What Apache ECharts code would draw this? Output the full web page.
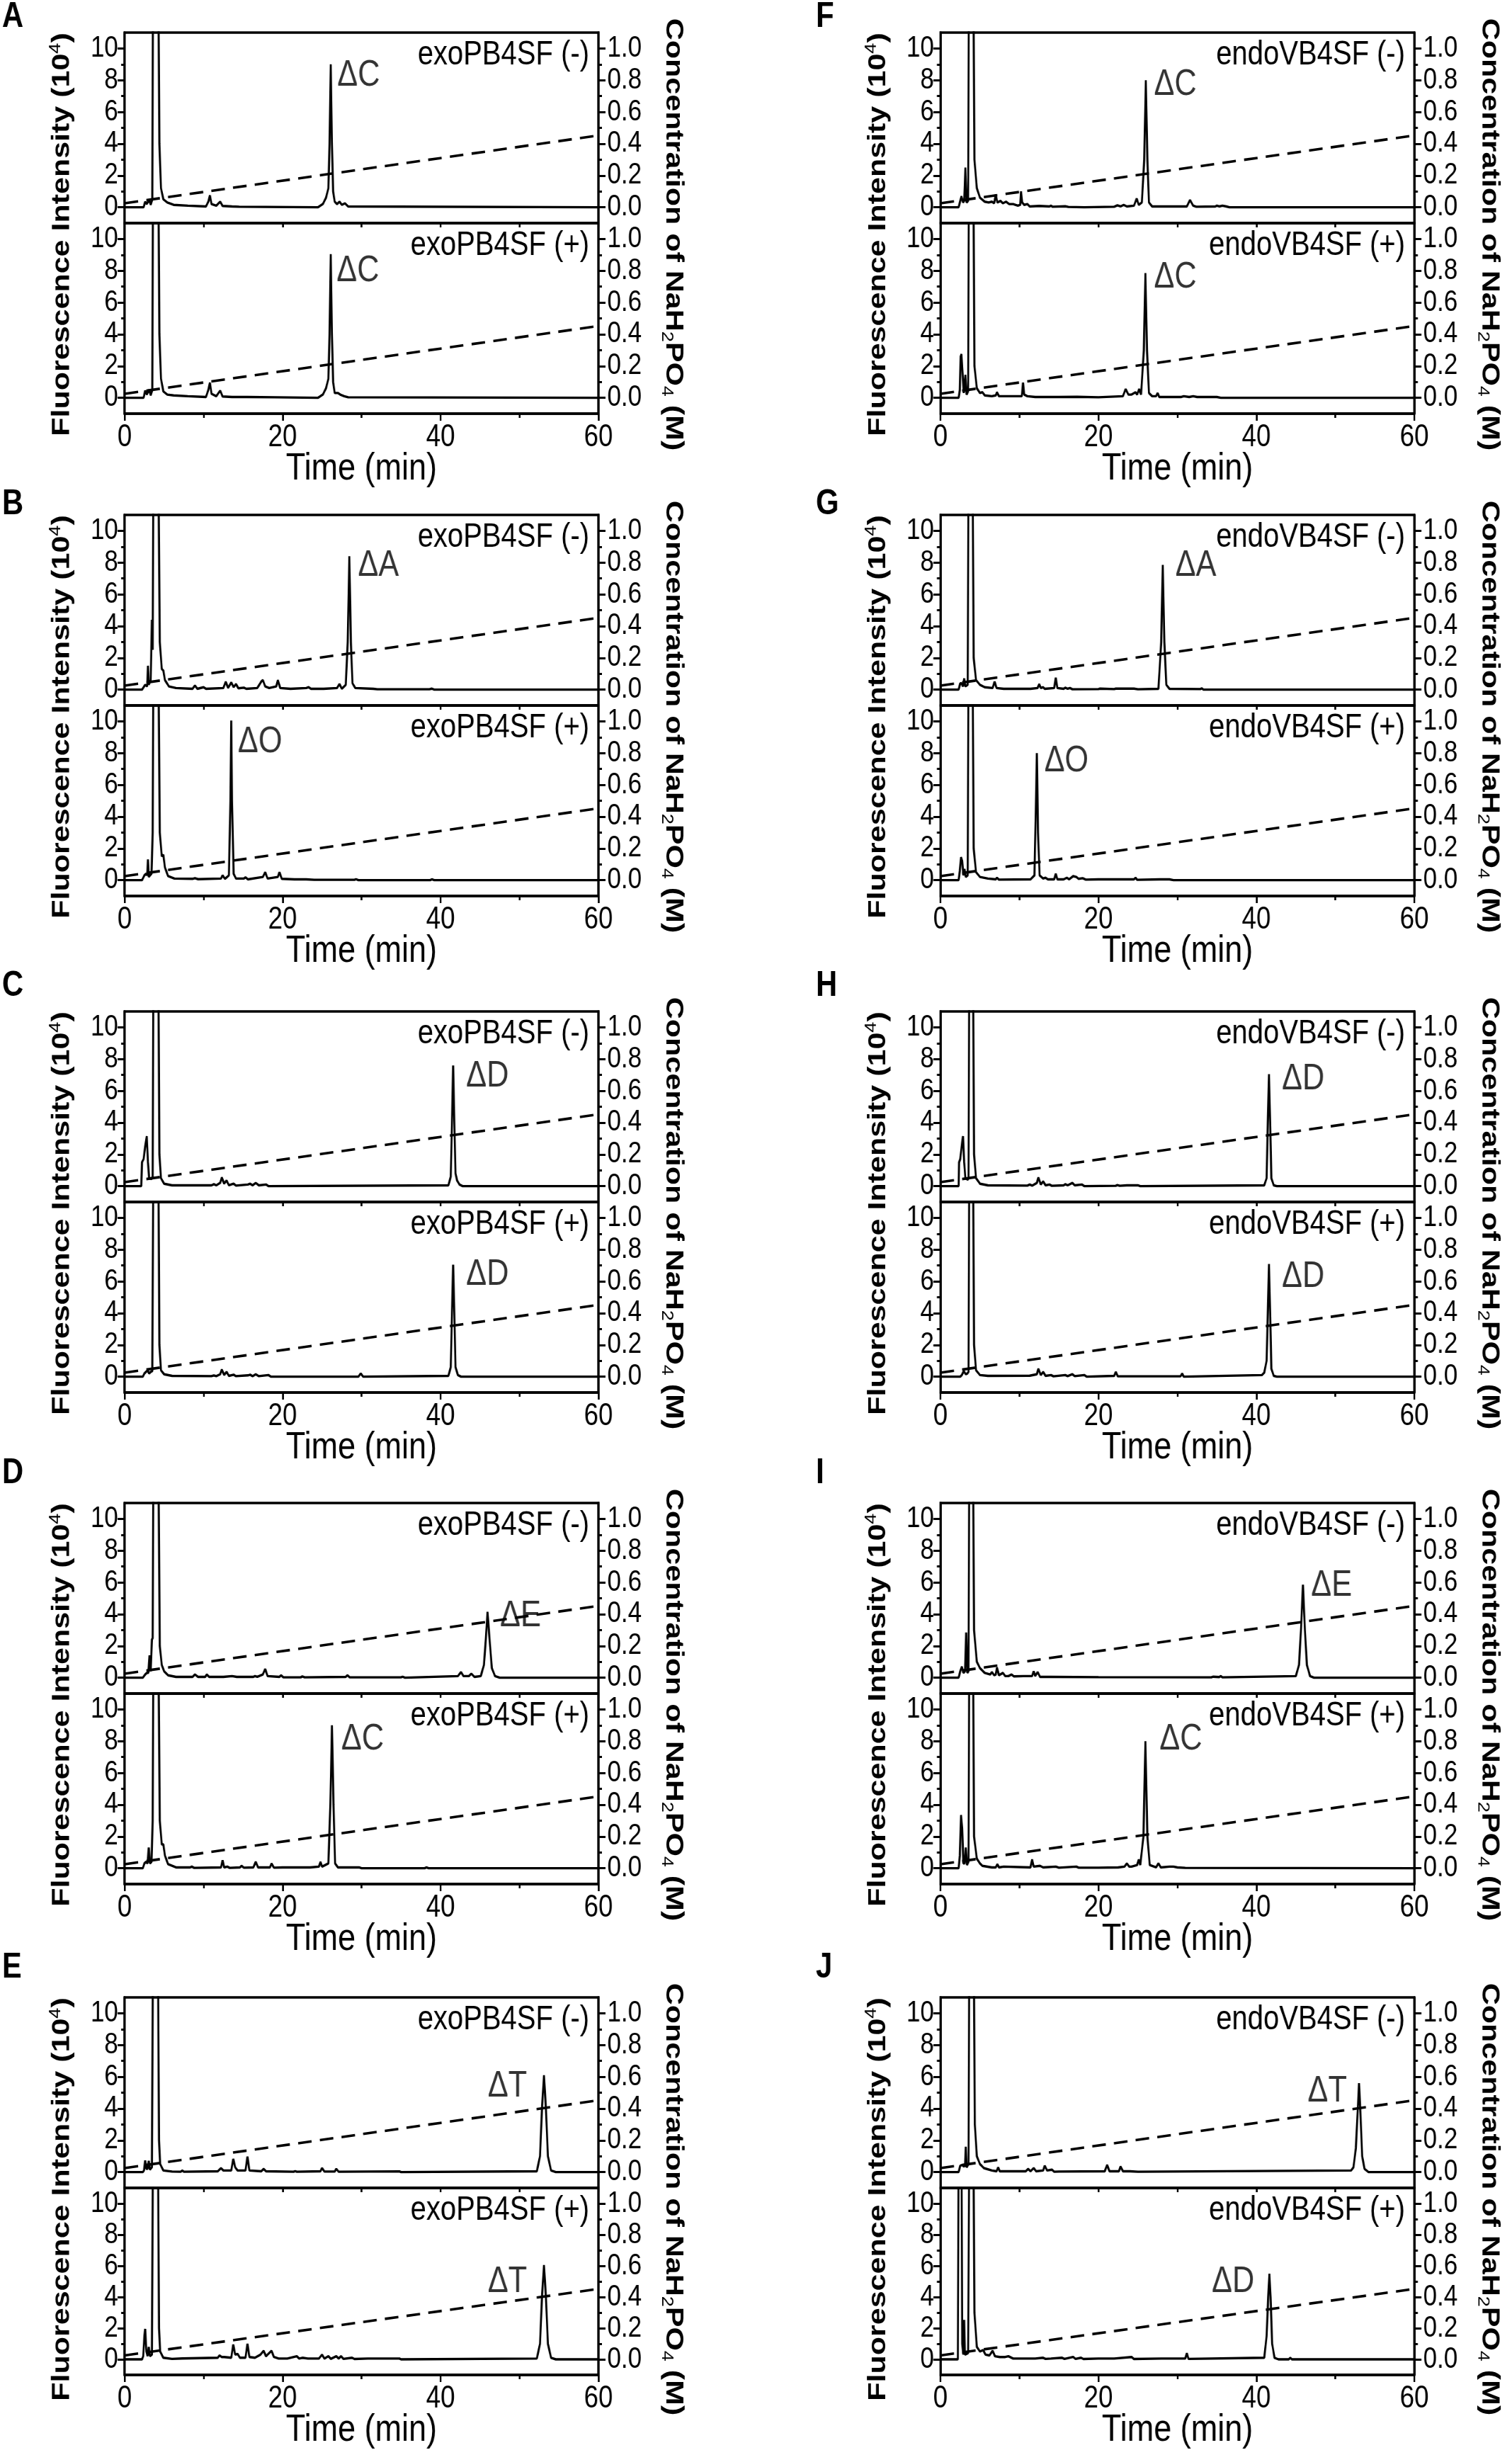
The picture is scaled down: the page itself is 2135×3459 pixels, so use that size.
<!DOCTYPE html>
<html>
<head>
<meta charset="utf-8">
<title>HPLC chromatograms</title>
<script src="https://cdn.jsdelivr.net/npm/echarts@6/dist/echarts.min.js"></script>
<style>
  html, body { margin: 0; padding: 0; background: #fff; overflow: hidden; }
  #page { width: 2135px; height: 3459px; overflow: hidden; position: relative; }
  /* the figure uses a condensed face: draw wider, then squeeze horizontally */
  #chart { width: 2562px; height: 3459px; transform: scaleX(0.833333); transform-origin: 0 0; }
</style>
</head>
<body>
<div id="page"><div id="chart"></div></div>
<script>
// ---- data: [time (min), fluorescence (10^4)] ----
var A_minus = [[0,0],[2.4,0],[2.6,0.35],[2.8,0.2],[3.1,0.45],[3.3,0.15],[3.5,0.5],[3.6,15],[4.25,15],[4.4,4],[4.6,1.2],[4.9,0.5],[5.4,0.3],[6.2,0.15],[8,0.1],[10.3,0.05],[10.6,0.35],[10.8,0.75],[11,0.2],[11.6,0.1],[12.1,0.35],[12.4,0.08],[13.6,0.05],[14.5,0.03],[24.5,0],[25.1,0.2],[25.5,0.6],[25.8,1.2],[25.95,4],[26.1,9.0],[26.25,4],[26.4,1.0],[26.6,0.35],[26.9,0.2],[27.2,0.35],[27.5,0.15],[27.9,0.25],[28.3,0.05],[60,0]];
var A_plus = [[0,0],[2.4,0],[2.6,0.45],[2.8,0.2],[3.1,0.5],[3.3,0.15],[3.5,0.5],[3.6,15],[4.25,15],[4.4,4],[4.6,1.2],[4.9,0.4],[5.4,0.2],[6.2,0.15],[8,0.1],[10.3,0.05],[10.6,0.5],[10.8,0.95],[11,0.25],[11.6,0.1],[12.1,0.45],[12.4,0.08],[13.6,0.05],[15.5,0.05],[19,0.03],[24.5,0],[25.1,0.2],[25.5,0.6],[25.8,1.2],[25.95,4],[26.1,9.05],[26.25,4],[26.4,1.0],[26.6,0.3],[27.0,0.3],[27.3,0.2],[27.8,0.1],[28.3,0.03],[60,0]];
var B_minus = [[0,0],[2.2,0],[2.6,0.3],[2.85,0.2],[2.95,1.5],[3.05,0.3],[3.3,0.6],[3.45,4.4],[3.55,2.5],[3.65,15],[4.25,15],[4.45,3],[4.7,1.3],[4.9,1.2],[5.1,0.6],[5.6,0.2],[6.5,0.1],[8.6,0.05],[8.9,0.25],[9.2,0.05],[10,0.15],[10.3,0.05],[12.5,0.1],[12.8,0.5],[13.1,0.1],[13.5,0.45],[13.8,0.15],[14.1,0.35],[14.4,0.08],[15.1,0.12],[15.4,0.05],[16.8,0.1],[17.3,0.5],[17.5,0.6],[17.8,0.2],[18.3,0.1],[19.2,0.2],[19.4,0.6],[19.7,0.1],[21,0.05],[23,0.1],[23.3,0.15],[23.6,0.05],[25.2,0.05],[26.9,0.1],[27.2,0.35],[27.5,0.05],[28.0,0.3],[28.25,3],[28.45,8.4],[28.65,3],[28.85,0.4],[29.2,0.1],[31.5,0.05],[32,0.02],[38.6,0.02],[38.9,0.06],[39.2,0],[60,0]];
var B_plus = [[0,0],[2.2,0],[2.5,0.3],[2.7,0.4],[2.85,0.3],[2.95,1.3],[3.05,0.2],[3.4,0.4],[3.55,3],[3.65,15],[4.25,15],[4.45,3],[4.7,1.5],[4.9,1.6],[5.1,0.8],[5.5,0.25],[6.3,0.1],[8.6,0.08],[8.9,0.12],[9.3,0.06],[12.2,0.1],[12.4,0.3],[12.7,0.08],[13.2,0.3],[13.4,5],[13.5,10.05],[13.6,5],[13.8,0.4],[14.1,0.1],[15.1,0.1],[15.3,0.18],[15.6,0.05],[17.5,0.2],[17.8,0.5],[18.1,0.1],[19.4,0.2],[19.6,0.5],[19.9,0.08],[21.5,0.05],[23,0.05],[24,0.02],[29.1,0.02],[29.3,0.06],[29.6,0],[38.7,0],[38.9,0.05],[39.2,0],[60,0]];
var C_minus = [[0,0],[2.1,0],[2.2,1.5],[2.4,1.7],[2.6,2.5],[2.8,3.15],[2.95,1.5],[3.1,0.5],[3.4,0.45],[3.55,0.6],[3.65,15],[4.25,15],[4.4,2],[4.6,0.5],[5.0,0.15],[6,0.05],[11,0.05],[11.3,0.12],[11.6,0.05],[12.1,0.2],[12.3,0.55],[12.6,0.15],[12.9,0.35],[13.2,0.05],[13.8,0.15],[14.1,0.03],[15.6,0.1],[15.9,0.15],[16.2,0.05],[16.6,0.2],[17,0.05],[17.9,0.1],[18.2,0],[41.0,0.05],[41.3,0.6],[41.45,4],[41.6,7.6],[41.75,4],[41.9,0.8],[42.1,0.35],[42.4,0.1],[42.8,0],[60,0]];
var C_plus = [[0,0],[2.3,0],[2.5,0.2],[2.7,0.3],[2.9,0.4],[3.1,0.2],[3.3,0.3],[3.5,0.35],[3.65,15],[4.25,15],[4.4,2],[4.6,0.4],[5.0,0.15],[6,0.05],[11,0.03],[11.3,0.08],[11.6,0.03],[12.1,0.15],[12.3,0.45],[12.6,0.1],[12.9,0.3],[13.2,0.05],[13.8,0.12],[14.1,0.03],[15.6,0.08],[15.9,0.12],[16.2,0.03],[16.6,0.15],[17,0.03],[18.2,0.1],[18.5,0],[29.6,0],[29.9,0.2],[30.2,0],[41.0,0.05],[41.3,0.6],[41.45,4],[41.6,7.05],[41.75,4],[41.9,0.6],[42.2,0.1],[42.6,0],[60,0]];
var D_minus = [[0,0],[2.3,0],[2.6,0.2],[2.8,0.3],[3.0,0.3],[3.15,1.4],[3.3,0.4],[3.45,2.4],[3.55,2.5],[3.65,15],[4.25,15],[4.45,2],[4.7,0.8],[5.0,0.4],[5.5,0.15],[6.5,0.05],[8.6,0.05],[8.9,0.2],[9.3,0.05],[10.2,0.05],[10.4,0.2],[10.7,0.05],[12.5,0.05],[13.6,0.1],[14.2,0.05],[16.3,0.05],[16.5,0.1],[16.8,0.05],[17.5,0.2],[17.8,0.55],[18.1,0.1],[19.6,0.05],[19.8,0.15],[20.1,0.02],[22.3,0.02],[22.5,0.08],[22.8,0.02],[28.0,0.05],[28.2,0.15],[28.5,0.02],[35,0.02],[35.2,0.06],[35.5,0],[42.2,0.1],[42.6,0.35],[42.9,0.1],[43.6,0.1],[43.9,0.25],[44.3,0.05],[45.1,0.1],[45.5,0.8],[45.75,2.5],[45.95,4.15],[46.2,2.5],[46.5,0.6],[46.9,0.1],[47.5,0],[60,0]];
var D_plus = [[0,0],[2.3,0],[2.5,0.3],[2.7,0.4],[2.9,0.3],[3.05,1.3],[3.2,0.3],[3.4,0.4],[3.55,3],[3.65,15],[4.25,15],[4.45,3],[4.7,1.5],[4.9,1.5],[5.1,0.8],[5.5,0.25],[6.5,0.05],[8.3,0.05],[8.5,0.1],[8.8,0.02],[12.2,0.05],[12.4,0.5],[12.6,0.05],[13,0.1],[13.3,0.02],[14.6,0.05],[14.8,0.15],[15.1,0.03],[16.3,0.05],[16.6,0.4],[16.9,0.05],[18.4,0.05],[18.6,0.3],[18.9,0.03],[20,0.05],[23.5,0.05],[24.6,0.1],[24.8,0.4],[25.0,0.1],[25.8,0.3],[26.05,4],[26.25,9.0],[26.45,4],[26.65,0.3],[27,0.05],[29.7,0.05],[30,0],[38,0],[38.2,0.05],[38.5,0],[60,0]];
var E_minus = [[0,0],[2.3,0],[2.45,0.1],[2.6,0.73],[2.75,0.2],[2.9,0.2],[3.05,0.7],[3.2,0.15],[3.45,0.3],[3.6,15],[4.2,15],[4.35,2],[4.5,0.5],[4.9,0.1],[6,0.03],[7.1,0.02],[7.3,0.1],[7.5,0.02],[11.8,0.05],[12.2,0.25],[12.5,0.1],[13.5,0.1],[13.75,0.83],[14.0,0.3],[14.3,0.1],[15.3,0.1],[15.55,0.97],[15.8,0.1],[17.3,0.05],[17.6,0.2],[17.9,0.05],[21.4,0.02],[21.6,0.06],[21.8,0.02],[24.8,0.05],[25,0.25],[25.3,0.03],[26.6,0.03],[26.8,0.2],[27.1,0.02],[30.8,0.03],[34.8,0.04],[35,0],[52.2,0.05],[52.6,1],[52.85,4],[53.1,6.1],[53.35,4],[53.6,1],[54.0,0.1],[54.6,0],[60,0]];
var E_plus = [[0,0],[2.2,0],[2.35,0.2],[2.5,1.5],[2.6,1.95],[2.75,0.5],[2.9,0.2],[3.05,0.8],[3.2,0.2],[3.45,0.3],[3.6,15],[4.2,15],[4.35,2],[4.5,0.5],[4.9,0.1],[6,0.03],[7.3,0.06],[11.8,0.1],[12.0,0.25],[12.3,0.15],[12.6,0.15],[13.5,0.1],[13.75,0.95],[14.0,0.3],[14.3,0.35],[14.6,0.1],[15.3,0.1],[15.55,1.0],[15.8,0.15],[16.5,0.1],[17.2,0.3],[17.6,0.55],[17.9,0.2],[18.2,0.35],[18.6,0.55],[18.9,0.15],[19.5,0.05],[20.6,0.05],[21.8,0.2],[22.1,0.05],[22.5,0.1],[23.2,0.05],[24.6,0.05],[25,0.3],[25.3,0.05],[25.8,0.2],[26.1,0.03],[26.8,0.2],[27.1,0.05],[27.4,0.2],[27.7,0.03],[28.8,0.1],[29.1,0.02],[30.8,0.05],[34.8,0.05],[35,0],[52.2,0.05],[52.6,1],[52.85,4],[53.1,6.05],[53.35,4],[53.6,1],[54.0,0.1],[54.6,0],[60,0]];
var F_minus = [[0,0],[2.3,0],[2.5,0.4],[2.65,0.7],[2.85,0.3],[3.0,0.4],[3.15,2.5],[3.3,0.3],[3.5,0.4],[3.6,15],[4.15,15],[4.3,3],[4.6,1.2],[5.0,0.6],[5.6,0.35],[6.1,0.3],[6.5,0.35],[6.8,0.25],[7.0,0.8],[7.2,0.3],[7.6,0.4],[7.9,0.25],[8.3,0.35],[8.7,0.2],[9.2,0.2],[9.8,0.1],[10.1,0.15],[10.2,1.0],[10.35,0.3],[10.6,0.15],[11,0.2],[11.3,0.05],[12.5,0.08],[13.8,0.05],[14,0.1],[14.2,0.03],[15.8,0.06],[16.2,0.02],[18.2,0],[22,0.03],[22.4,0.12],[22.8,0.05],[23.2,0.15],[23.6,0.05],[24.5,0.1],[24.85,0.55],[25.1,0.15],[25.5,0.3],[25.8,3],[26.0,8.0],[26.2,3],[26.4,0.3],[26.8,0.05],[31.2,0.05],[31.6,0.45],[32.0,0.1],[32.4,0.03],[34.8,0.05],[35,0.1],[35.3,0.05],[35.7,0.1],[36.2,0.05],[36.6,0],[60,0]];
var F_plus = [[0,0],[2.3,0],[2.45,0.5],[2.55,2.6],[2.65,2.75],[2.8,1.5],[2.95,0.3],[3.05,0.3],[3.15,1.45],[3.3,0.2],[3.5,0.4],[3.6,15],[4.15,15],[4.3,2],[4.6,0.6],[5.0,0.3],[5.3,0.35],[5.6,0.15],[6.5,0.1],[7.0,0.15],[7.15,0.35],[7.4,0.1],[8.2,0.1],[10.3,0.1],[10.45,0.95],[10.6,0.2],[11,0.1],[12,0.05],[15,0.05],[17.3,0.06],[20,0.03],[23.1,0.1],[23.45,0.55],[23.8,0.2],[24.2,0.2],[24.7,0.35],[24.9,0.2],[25.15,0.55],[25.4,0.2],[25.75,3],[25.95,7.85],[26.15,3],[26.4,0.3],[26.8,0.1],[27.3,0.1],[27.5,0.3],[27.7,0.05],[30.5,0.05],[30.8,0.1],[31.5,0.05],[32,0.1],[32.5,0.05],[35,0.05],[35.5,0],[60,0]];
var G_minus = [[0,0],[2.3,0],[2.5,0.4],[2.65,0.4],[2.85,0.2],[3.0,0.7],[3.15,0.2],[3.45,0.3],[3.55,15],[4.05,15],[4.2,2],[4.5,0.6],[5.0,0.3],[5.6,0.15],[6.6,0.1],[6.85,0.5],[7.1,0.1],[8,0.05],[9,0.05],[11.4,0.05],[12.3,0.1],[12.5,0.35],[12.7,0.1],[13,0.15],[13.2,0.05],[14.4,0.1],[14.6,0.75],[14.8,0.1],[15.6,0.05],[15.8,0.12],[16.1,0.05],[16.4,0.1],[16.7,0.02],[20,0.03],[20.2,0.06],[22,0.03],[22.2,0.06],[23.7,0.06],[24.5,0.06],[25,0.02],[27.6,0.05],[27.95,3],[28.15,7.85],[28.35,3],[28.6,0.3],[29,0.05],[32.9,0.03],[33.1,0.08],[33.3,0],[60,0]];
var G_plus = [[0,0],[2.3,0],[2.45,0.6],[2.6,1.45],[2.75,1.2],[2.9,0.3],[3.05,0.7],[3.2,0.2],[3.45,0.3],[3.55,15],[4.05,15],[4.2,2],[4.5,0.5],[5.0,0.2],[6,0.1],[7,0.05],[7.15,0.15],[7.4,0.03],[11.4,0.05],[11.7,0.2],[11.9,0.3],[12.05,4],[12.2,8.0],[12.35,3],[12.55,0.3],[13.0,0.1],[13.3,0.15],[13.6,0.05],[14.4,0.05],[14.6,0.4],[14.8,0.05],[15.6,0.05],[16,0.15],[16.3,0.05],[16.8,0.25],[17.2,0.2],[17.5,0.08],[18,0.12],[18.4,0.03],[20,0.05],[21,0.05],[22,0.05],[24.5,0.05],[24.7,0.15],[24.9,0.02],[27.8,0.05],[29,0.05],[29.5,0],[60,0]];
var H_minus = [[0,0],[2.3,0],[2.35,1.5],[2.5,1.7],[2.7,2.6],[2.85,3.15],[3.0,1.5],[3.15,0.5],[3.45,0.4],[3.55,0.5],[3.65,15],[4.1,15],[4.25,2],[4.5,0.5],[5.0,0.15],[6,0.05],[11,0.03],[11.3,0.1],[11.6,0.03],[12.2,0.2],[12.4,0.55],[12.7,0.1],[13.0,0.3],[13.3,0.05],[13.8,0.1],[14.1,0.02],[15.6,0.05],[15.8,0.12],[16.1,0.05],[16.7,0.2],[17,0.05],[17.9,0.1],[18.2,0],[22.2,0.02],[22.4,0.07],[22.7,0.02],[23.6,0.05],[25,0.05],[25.3,0],[41.0,0.05],[41.3,0.5],[41.45,4],[41.6,7.05],[41.75,4],[41.9,0.5],[42.2,0.05],[42.6,0],[60,0]];
var H_plus = [[0,0],[2.5,0],[2.7,0.1],[2.95,0.35],[3.2,0.15],[3.4,0.2],[3.55,0.3],[3.65,15],[4.1,15],[4.25,2],[4.5,0.4],[5.0,0.1],[6,0.05],[11.3,0.06],[12.2,0.15],[12.4,0.5],[12.7,0.1],[13,0.3],[13.3,0.05],[14,0.1],[14.3,0.02],[15.8,0.1],[16.1,0.03],[16.7,0.15],[17,0.03],[18.2,0.1],[18.5,0],[22,0.05],[22.2,0.3],[22.45,0.02],[30.4,0.02],[30.6,0.2],[30.8,0],[40.7,0.1],[41.0,0.25],[41.3,1.0],[41.45,4],[41.6,7.1],[41.75,4],[41.9,0.5],[42.2,0.05],[42.6,0],[60,0]];
var I_minus = [[0,0],[2.3,0],[2.5,0.4],[2.7,0.7],[2.9,0.3],[3.1,0.4],[3.25,2.85],[3.4,0.3],[3.55,0.4],[3.65,15],[4.1,15],[4.25,3],[4.6,1.0],[5.0,0.6],[5.6,0.3],[6.3,0.2],[6.5,0.35],[6.8,0.15],[7.0,0.2],[7.15,0.65],[7.4,0.15],[7.9,0.3],[8.2,0.1],[8.6,0.1],[9,0.2],[9.3,0.08],[10.5,0.1],[11.6,0.1],[11.8,0.4],[12.0,0.1],[12.3,0.35],[12.6,0.05],[14,0.05],[20,0.03],[34.3,0.02],[34.5,0.06],[35.3,0.04],[35.5,0.1],[35.7,0.02],[45.0,0.1],[45.4,0.8],[45.65,3],[45.9,5.85],[46.15,3],[46.4,0.8],[46.8,0.1],[47.3,0],[60,0]];
var I_plus = [[0,0],[2.3,0],[2.45,0.8],[2.6,3.35],[2.75,2.5],[2.9,0.3],[3.05,0.3],[3.2,1.3],[3.35,0.2],[3.55,0.4],[3.65,15],[4.1,15],[4.25,2],[4.6,0.6],[5.0,0.3],[5.3,0.15],[6.5,0.05],[7.0,0.05],[7.2,0.25],[7.4,0.05],[8,0.1],[11.4,0.05],[11.6,0.55],[11.8,0.1],[12.6,0.15],[13,0.05],[14.6,0.1],[15,0.03],[17.2,0.1],[17.5,0.03],[20,0.03],[22.5,0.05],[23.3,0.1],[23.6,0.3],[23.9,0.1],[24.2,0.1],[24.9,0.2],[25.1,0.55],[25.3,0.2],[25.7,2],[25.95,8.0],[26.2,2],[26.5,0.2],[27.3,0.05],[27.6,0.3],[27.9,0.05],[29,0.1],[29.5,0.1],[30,0.05],[31,0.02],[60,0]];
var J_minus = [[0,0],[2.3,0],[2.5,0.4],[2.75,0.45],[2.95,0.35],[3.1,0.4],[3.2,1.6],[3.3,0.3],[3.55,0.5],[3.65,15],[4.2,15],[4.35,3],[4.6,1.0],[5.0,0.5],[5.5,0.25],[6.5,0.1],[7.1,0.05],[7.3,0.3],[7.5,0.05],[9,0.05],[10.8,0.05],[11.1,0.2],[11.4,0.05],[11.8,0.25],[12.1,0.05],[13,0.1],[13.2,0.4],[13.5,0.1],[14.1,0.15],[14.4,0.02],[15,0.03],[20.8,0.05],[21.1,0.45],[21.4,0.05],[22.6,0.05],[22.8,0.35],[23.1,0.05],[24,0.05],[25,0.02],[52,0.1],[52.3,0.3],[52.6,1.5],[52.8,3.5],[53.0,5.6],[53.2,3.5],[53.4,1.0],[53.7,0.2],[54.2,0],[60,0]];
var J_plus = [[0,0],[2.2,0],[2.3,15],[2.65,15],[2.75,1],[2.9,0.3],[3.0,2.53],[3.1,0.3],[3.5,0.4],[3.65,15],[4.15,15],[4.3,3],[4.6,0.8],[5.0,0.5],[5.4,0.6],[5.7,0.3],[6.2,0.25],[6.6,0.55],[6.9,0.2],[7.5,0.15],[8.2,0.15],[8.6,0.2],[9.2,0.05],[11,0.05],[12,0.05],[13,0.1],[13.3,0.03],[14,0.05],[15.4,0.1],[15.7,0.03],[16.8,0.15],[17.1,0.03],[17.8,0.1],[18.1,0.02],[20,0.05],[22,0.05],[24.2,0.15],[24.5,0.02],[28,0.05],[31.0,0.05],[31.2,0.4],[31.4,0.03],[41.0,0.1],[41.3,1.5],[41.5,4],[41.65,5.5],[41.8,4],[42.0,1.0],[42.3,0.1],[42.8,0],[44.1,0],[44.3,0.1],[44.5,0],[60,0]];

// NaH2PO4 gradient (dashed line), right axis
var gradientTime = [0, 60];
var gradientConc = [0.025, 0.452];

// axis ticks
var timeLabels = [0, 20, 40, 60];
var fluorTicks = [0, 2, 4, 6, 8, 10];
var fluorMinor = [1, 3, 5, 7, 9];
var concTicks = [0, 0.2, 0.4, 0.6, 0.8, 1.0];
var concMinor = [0.1, 0.3, 0.5, 0.7, 0.9];

// panels, samples and peak names: [text, time, intensity] of the label anchor
var panels = ['A', 'B', 'C', 'D', 'E', 'F', 'G', 'H', 'I', 'J'];
var traces = [
    [A_minus, A_plus], [B_minus, B_plus], [C_minus, C_plus], [D_minus, D_plus], [E_minus, E_plus],
    [F_minus, F_plus], [G_minus, G_plus], [H_minus, H_plus], [I_minus, I_plus], [J_minus, J_plus]
];
var enzymes = ['exoPB4SF', 'endoVB4SF'];
var peakLabels = [
    [['ΔC', 26.9, 8.3, 'right'], ['ΔC', 26.8, 8.0, 'right']],
    [['ΔA', 29.5, 7.8, 'right'], ['ΔO', 14.3, 8.7, 'right']],
    [['ΔD', 43.2, 6.9, 'right'], ['ΔD', 43.2, 6.4, 'right']],
    [['ΔE', 47.5, 3.9, 'right'], ['ΔC', 27.4, 8.1, 'right']],
    [['ΔT', 51.0, 5.4, 'left'], ['ΔT', 51.0, 4.95, 'left']],
    [['ΔC', 27.0, 7.7, 'right'], ['ΔC', 27.0, 7.6, 'right']],
    [['ΔA', 29.7, 7.8, 'right'], ['ΔO', 13.1, 7.5, 'right']],
    [['ΔD', 43.2, 6.75, 'right'], ['ΔD', 43.2, 6.3, 'right']],
    [['ΔE', 46.9, 5.8, 'right'], ['ΔC', 27.7, 8.1, 'right']],
    [['ΔT', 51.5, 5.1, 'left'], ['ΔD', 39.8, 4.95, 'left']]
];

// ---- layout (final page px; K widens x before the CSS squeeze) ----
var K = 1.2;
var FONT = '"Liberation Sans", Arial, Helvetica, sans-serif';
var colLeft = [176, 1328];
var plotW = 669;
var rowTop = [46, 727, 1428, 2122, 2820];
var subH = 269;
var letterY = [24, 712, 1392, 2080, 2778];
var letterX = [3, 1152];

var chart = echarts.init(document.getElementById('chart'), null, { renderer: 'canvas' });

var grids = [], xAxes = [], yAxes = [], series = [], graphics = [];
var tickStyle = { color: '#000', width: 3 };
var frameStyle = { color: '#000', width: 3.6 };

panels.forEach(function (p, i) {
    var col = i < 5 ? 0 : 1;
    var row = i % 5;
    var left = colLeft[col];

    for (var s = 0; s < 2; s++) {
        var g = i * 2 + s;
        var top = rowTop[row] + s * subH;
        grids.push({
            left: left * K, top: top, width: plotW * K, height: subH,
            show: true, borderColor: '#000', borderWidth: 3.6, backgroundColor: 'transparent'
        });
        xAxes.push({
            gridIndex: g, type: 'value', min: 0, max: 60, interval: 20, position: 'bottom',
            axisLine: { show: true, onZero: false, lineStyle: frameStyle },
            axisTick: { show: true, inside: false, length: s ? 10 : 6, lineStyle: tickStyle },
            minorTick: { show: true, splitNumber: 2, length: 6, lineStyle: tickStyle },
            axisLabel: {
                show: s === 1, margin: 12, color: '#000', fontSize: 44, fontFamily: FONT, interval: 0,
                customValues: timeLabels, showMinLabel: true, showMaxLabel: true
            },
            splitLine: { show: false },
            name: s === 1 ? 'Time (min)' : '',
            nameLocation: 'middle', nameGap: 51, nameMoveOverlap: false,
            nameTextStyle: { color: '#000', fontSize: 54, fontFamily: FONT }
        });
        // left: fluorescence
        yAxes.push({
            gridIndex: g, type: 'value', min: -1, max: 11, position: 'left', offset: 0,
            axisLine: { show: true, onZero: false, lineStyle: frameStyle },
            axisTick: { show: true, inside: false, length: 12, lineStyle: tickStyle, customValues: fluorTicks },
            axisLabel: {
                show: true, margin: 11, color: '#000', fontSize: 42, fontFamily: FONT, interval: 0,
                customValues: fluorTicks, hideOverlap: false
            },
            splitLine: { show: false }
        });
        yAxes.push({
            gridIndex: g, type: 'value', min: -1, max: 11, position: 'left', offset: 0,
            axisLine: { show: false },
            axisTick: { show: true, inside: false, length: 6, lineStyle: tickStyle, customValues: fluorMinor },
            axisLabel: { show: false, customValues: fluorMinor },
            splitLine: { show: false }
        });
        // right: NaH2PO4 concentration
        yAxes.push({
            gridIndex: g, type: 'value', min: -0.1, max: 1.1, position: 'right', offset: 0,
            axisLine: { show: true, onZero: false, lineStyle: frameStyle },
            axisTick: { show: true, inside: false, length: 12, lineStyle: tickStyle, customValues: concTicks },
            axisLabel: {
                show: true, margin: 15, color: '#000', fontSize: 42, fontFamily: FONT, interval: 0,
                customValues: concTicks, hideOverlap: false,
                formatter: function (v) { return v.toFixed(1); }
            },
            splitLine: { show: false }
        });
        yAxes.push({
            gridIndex: g, type: 'value', min: -0.1, max: 1.1, position: 'right', offset: 0,
            axisLine: { show: false },
            axisTick: { show: true, inside: false, length: 6, lineStyle: tickStyle, customValues: concMinor },
            axisLabel: { show: false, customValues: concMinor },
            splitLine: { show: false }
        });

        series.push({
            type: 'line', xAxisIndex: g, yAxisIndex: g * 4,
            data: traces[i][s], showSymbol: false, symbol: 'none', clip: true,
            lineStyle: { color: '#000', width: 3.4 }, silent: true, z: 3
        });
        series.push({
            type: 'line', xAxisIndex: g, yAxisIndex: g * 4 + 2,
            data: gradientTime.map(function (t, k) { return [t, gradientConc[k]]; }),
            showSymbol: false, symbol: 'none',
            lineStyle: { color: '#000', width: 3.6, type: [23, 14] }, silent: true, z: 2
        });
        var pk = peakLabels[i][s];
        series.push({
            type: 'scatter', xAxisIndex: g, yAxisIndex: g * 4,
            data: [[pk[1], pk[2]]], symbolSize: 1, itemStyle: { color: 'rgba(0,0,0,0)' }, silent: true, z: 4,
            label: {
                show: true, position: pk[3], distance: 0, formatter: pk[0],
                color: '#000', fontSize: 52, fontFamily: FONT
            }
        });

        // sample label
        graphics.push({
            type: 'text', x: (left + plotW - 13) * K, y: top + 32, silent: true,
            style: {
                text: enzymes[col] + (s ? ' (+)' : ' (-)'), fill: '#000',
                fontSize: 48, fontFamily: FONT, align: 'right', verticalAlign: 'middle'
            }
        });
    }

    var midY = rowTop[row] + subH + 16;
    // panel letter
    graphics.push({
        type: 'text', x: letterX[col] * K, y: letterY[row], silent: true,
        style: { text: p, fill: '#000', fontSize: 50, fontWeight: 'bold', fontFamily: FONT, align: 'left', verticalAlign: 'middle' }
    });
    // left axis title (vertical text: its length is not squeezed)
    graphics.push({
        type: 'text', x: (left - 88) * K, y: midY, rotation: Math.PI / 2, silent: true,
        style: {
            text: '{b|Fluorescence Intensity (10}{sup|4}{b|)}', align: 'center', verticalAlign: 'middle',
            rich: {
                b: { fontSize: 43, fontWeight: 'bold', fontFamily: FONT, fill: '#000', lineHeight: 50 },
                sup: { fontSize: 27, fontFamily: FONT, fill: '#000', verticalAlign: 'top', lineHeight: 50 }
            }
        }
    });
    // right axis title
    graphics.push({
        type: 'text', x: (left + plotW + 106) * K, y: midY, rotation: -Math.PI / 2, silent: true,
        style: {
            text: '{b|Concentration of NaH}{sub|2}{b|PO}{sub|4}{b| (M)}', align: 'center', verticalAlign: 'middle',
            rich: {
                b: { fontSize: 43, fontWeight: 'bold', fontFamily: FONT, fill: '#000', lineHeight: 50 },
                sub: { fontSize: 27, fontFamily: FONT, fill: '#000', verticalAlign: 'bottom', lineHeight: 50 }
            }
        }
    });
});

var option = {
    animation: false,
    backgroundColor: '#fff',
    grid: grids,
    xAxis: xAxes,
    yAxis: yAxes,
    series: series,
    graphic: { elements: graphics }
};
chart.setOption(option);
window.addEventListener('resize', function () {
    chart.resize();
});
</script>
</body>
</html>
